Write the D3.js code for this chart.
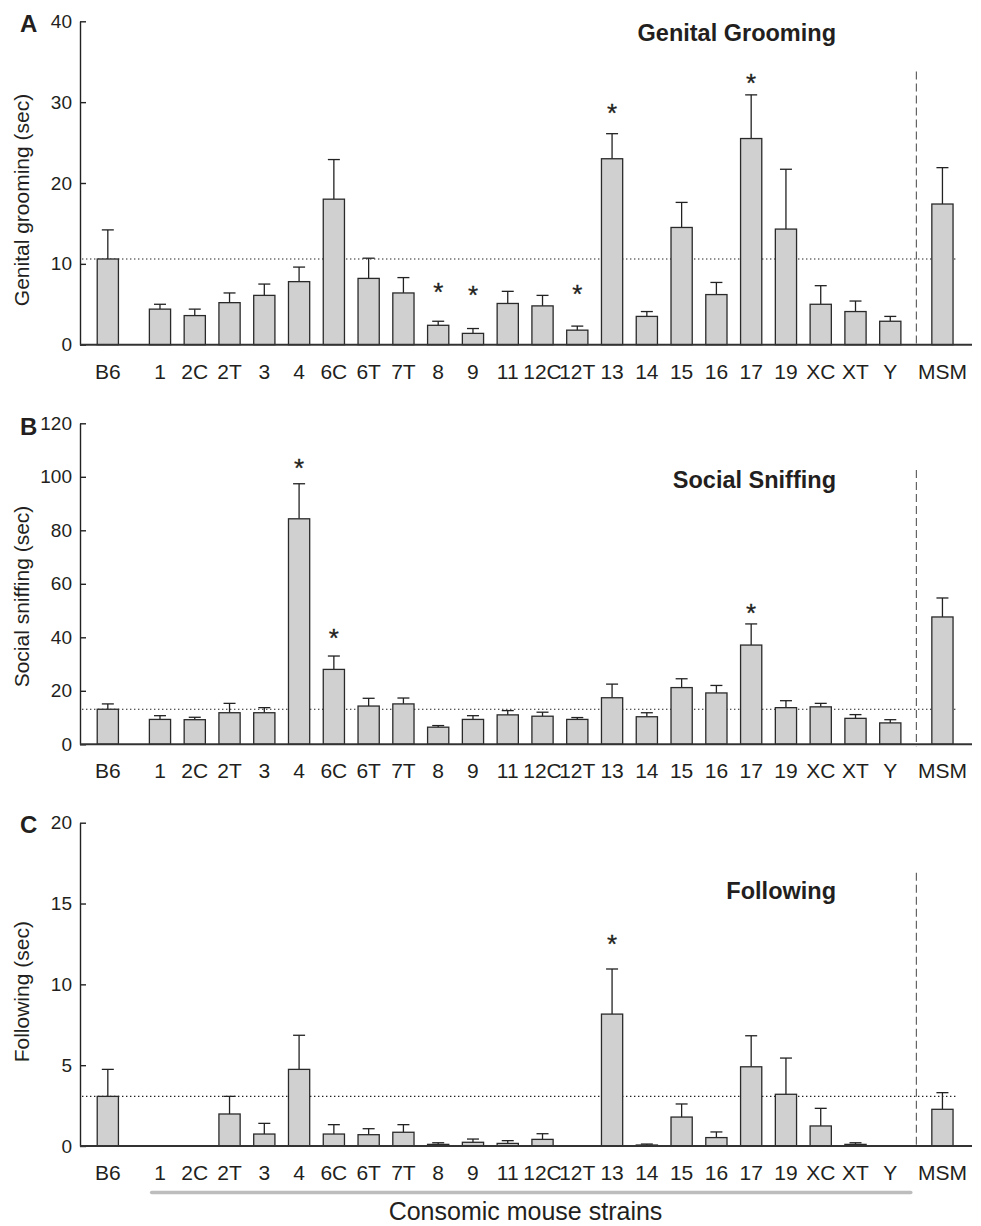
<!DOCTYPE html>
<html>
<head>
<meta charset="utf-8">
<script src="https://cdn.jsdelivr.net/npm/d3@7"></script>
<style>
  html, body { margin: 0; padding: 0; background: #fff; }
  svg { display: block; font-family: "Liberation Sans", Arial, Helvetica, sans-serif; }
</style>
</head>
<body>
<svg id="chart" width="981" height="1226"></svg>
<script>
// ---------- DATA ----------
const categories = ["B6","1","2C","2T","3","4","6C","6T","7T","8","9","11","12C","12T","13","14","15","16","17","19","XC","XT","Y","MSM"];

// Panel A: Genital grooming (sec)
const groomMean = [10.6, 4.4, 3.6, 5.2, 6.1, 7.8, 18.0, 8.2, 6.4, 2.4, 1.4, 5.1, 4.8, 1.8, 23.0, 3.5, 14.5, 6.2, 25.5, 14.3, 5.0, 4.1, 2.9, 17.4];
const groomErr  = [14.2, 5.0, 4.4, 6.4, 7.5, 9.6, 22.9, 10.7, 8.3, 2.9, 2.0, 6.6, 6.1, 2.3, 26.1, 4.1, 17.6, 7.7, 30.9, 21.7, 7.3, 5.4, 3.5, 21.9];
const groomStar = [null,null,null,null,null,null,null,null,null,7.2,6.9,null,null,7.0,29.4,null,null,null,33.1,null,null,null,null,null];

// Panel B: Social sniffing (sec)
const sniffMean = [13.1, 9.3, 9.2, 11.8, 11.8, 84.3, 28.0, 14.3, 15.1, 6.4, 9.3, 11.0, 10.5, 9.3, 17.4, 10.3, 21.2, 19.2, 37.1, 13.7, 14.0, 9.7, 8.0, 47.6];
const sniffErr  = [15.1, 10.7, 10.1, 15.3, 13.7, 97.4, 33.0, 17.2, 17.3, 7.0, 10.7, 12.6, 12.0, 10.0, 22.5, 11.8, 24.5, 22.0, 45.0, 16.3, 15.3, 11.1, 9.2, 54.7];
const sniffStar = [null,null,null,null,null,105.6,41.9,null,null,null,null,null,null,null,null,null,null,null,51.2,null,null,null,null,null];

// Panel C: Following (sec)
const followMean = [3.07, 0, 0, 1.98, 0.74, 4.74, 0.74, 0.70, 0.85, 0.10, 0.23, 0.16, 0.41, 0, 8.16, 0.06, 1.79, 0.52, 4.90, 3.20, 1.24, 0.10, 0, 2.27];
const followErr  = [4.74, 0, 0, 3.07, 1.40, 6.85, 1.32, 1.07, 1.32, 0.20, 0.43, 0.33, 0.76, 0, 10.95, 0.12, 2.60, 0.87, 6.82, 5.44, 2.33, 0.20, 0, 3.30];
const followStar = [null,null,null,null,null,null,null,null,null,null,null,null,null,null,12.85,null,null,null,null,null,null,null,null,null];

const ticksA = [0, 10, 20, 30, 40];
const ticksB = [0, 20, 40, 60, 80, 100, 120];
const ticksC = [0, 5, 10, 15, 20];

const titles = ["Genital Grooming", "Social Sniffing", "Following"];
const yTitles = ["Genital grooming (sec)", "Social sniffing (sec)", "Following (sec)"];
const panelLetters = ["A", "B", "C"];
const xAxisTitle = "Consomic mouse strains";

// ---------- LAYOUT ----------
const svg = d3.select("#chart");
const textColor = "#231f20";

// slot index: B6 alone, gap, 22 consomic strains, gap, MSM
const slotIndex = categories.map((c, i) => c === "B6" ? 0 : (c === "MSM" ? 24 : 0.5 + i));
const x = d3.scaleLinear().domain([-0.8, 24.85]).range([80, 972]);
const slotW = x(1) - x(0);
const barW = slotW * 0.61;
const capW = 12;
const dividerIdx = 23.25;

const panels = [
  { mean: groomMean, err: groomErr, star: groomStar, ticks: ticksA, max: 40, y0: 344.7, y1: 21.3, divTop: 33.8,
    letterY: 32.3, titleY: 40.5, yTitleY: 200 },
  { mean: sniffMean, err: sniffErr, star: sniffStar, ticks: ticksB, max: 120, y0: 744.3, y1: 423.3, divTop: 102.5,
    letterY: 435, titleY: 487.7, yTitleY: 596.5 },
  { mean: followMean, err: followErr, star: followStar, ticks: ticksC, max: 20, y0: 1146, y1: 822.7, divTop: 16.9,
    letterY: 833.3, titleY: 899.3, yTitleY: 991.7 }
];

panels.forEach((p, pi) => {
  const y = d3.scaleLinear().domain([0, p.max]).range([p.y0, p.y1]);
  const g = svg.append("g");

  // y axis
  const yAxis = d3.axisLeft(y).tickValues(p.ticks).tickSizeInner(-6).tickSizeOuter(0).tickPadding(8);
  const ya = g.append("g").attr("transform", `translate(${x.range()[0]},0)`).call(yAxis);
  ya.select(".domain").attr("stroke", "#222").attr("stroke-width", 1.4);
  ya.selectAll(".tick line").attr("stroke", "#222").attr("stroke-width", 1.4);
  ya.selectAll(".tick text").attr("font-size", 19).attr("fill", textColor)
    .attr("font-family", "'Liberation Sans', Arial, sans-serif");

  // dotted reference line at B6 mean
  g.append("line")
    .attr("x1", x.range()[0] + 2).attr("x2", x(24) + barW / 2 + 3)
    .attr("y1", y(p.mean[0])).attr("y2", y(p.mean[0]))
    .attr("stroke", "#222").attr("stroke-width", 1.2).attr("stroke-dasharray", "1.4,2.6");

  // dashed divider
  g.append("line")
    .attr("x1", x(dividerIdx)).attr("x2", x(dividerIdx))
    .attr("y1", y(p.divTop)).attr("y2", p.y0 + 2)
    .attr("stroke", "#555").attr("stroke-width", 1.1).attr("stroke-dasharray", "8,4");

  const items = categories.map((c, i) => ({ c, i, pos: slotIndex[i], m: p.mean[i], e: p.err[i], s: p.star[i] }));
  const drawn = items.filter(d => d.m > 0);

  // error bars
  g.selectAll(".eb").data(drawn).join("line")
    .attr("x1", d => x(d.pos)).attr("x2", d => x(d.pos))
    .attr("y1", d => y(d.m)).attr("y2", d => y(d.e))
    .attr("stroke", "#222").attr("stroke-width", 1.3);
  g.selectAll(".cap").data(drawn).join("line")
    .attr("x1", d => x(d.pos) - capW / 2).attr("x2", d => x(d.pos) + capW / 2)
    .attr("y1", d => y(d.e)).attr("y2", d => y(d.e))
    .attr("stroke", "#222").attr("stroke-width", 1.3);

  // bars
  g.selectAll(".bar").data(drawn).join("rect")
    .attr("x", d => x(d.pos) - barW / 2).attr("width", barW)
    .attr("y", d => y(d.m)).attr("height", d => p.y0 - y(d.m))
    .attr("fill", "#d0d0d0").attr("stroke", "#2a2a2a").attr("stroke-width", 1.3);

  // x axis line
  g.append("line")
    .attr("x1", x.range()[0]).attr("x2", x.range()[1])
    .attr("y1", p.y0).attr("y2", p.y0)
    .attr("stroke", "#333").attr("stroke-width", 2);

  // stars
  g.selectAll(".star").data(items.filter(d => d.s != null)).join("text")
    .attr("x", d => x(d.pos)).attr("y", d => y(d.s) + 15)
    .attr("text-anchor", "middle").attr("font-size", 26).attr("fill", textColor)
    .attr("stroke", textColor).attr("stroke-width", 0.3)
    .text("*");

  // category labels
  g.selectAll(".xl").data(items).join("text")
    .attr("x", d => x(d.pos)).attr("y", p.y0 + 34)
    .attr("text-anchor", "middle").attr("font-size", 21).attr("fill", textColor)
    .text(d => d.c);

  // panel title
  g.append("text").attr("x", 836).attr("y", p.titleY)
    .attr("text-anchor", "end").attr("font-size", 23.5).attr("font-weight", "bold").attr("fill", textColor)
    .text(titles[pi]);

  // panel letter
  g.append("text").attr("x", 20).attr("y", p.letterY)
    .attr("font-size", 24).attr("font-weight", "bold").attr("fill", textColor)
    .text(panelLetters[pi]);

  // y title
  g.append("text")
    .attr("transform", `translate(29,${p.yTitleY}) rotate(-90)`)
    .attr("text-anchor", "middle").attr("font-size", 21).attr("fill", textColor)
    .text(yTitles[pi]);
});

// gray bracket for consomic strains and x title
svg.append("line")
  .attr("x1", x(1.26)).attr("x2", x(23.09))
  .attr("y1", 1192.5).attr("y2", 1192.5)
  .attr("stroke", "#bdbdbd").attr("stroke-width", 3.5).attr("stroke-linecap", "round");
svg.append("text").attr("x", 525.5).attr("y", 1220)
  .attr("text-anchor", "middle").attr("font-size", 25).attr("fill", textColor)
  .text(xAxisTitle);
</script>
</body>
</html>
